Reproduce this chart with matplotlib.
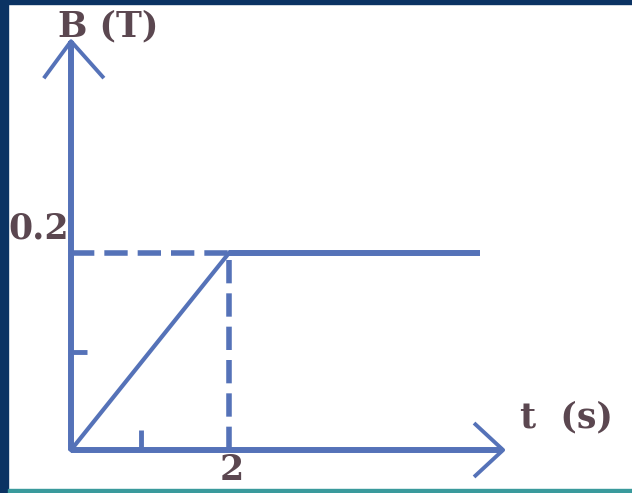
import numpy as np
import matplotlib.pyplot as plt
from matplotlib.patches import Rectangle

# B(t): linear rise to 0.2 T at t = 2 s, then constant
t = [0, 2, 5.18]
B = [0, 0.2, 0.2]
t_mark = 2
B_mark = 0.2
t_tick = 0.88
B_tick = 0.1

blue = '#5572b8'
txt = '#5b4750'

fig = plt.figure(figsize=(6.32, 4.93), dpi=100)
ax = fig.add_axes([0, 0, 1, 1])
ax.set_xlim(-71 / 79, (632 - 71) / 79)
ax.set_ylim(-43 / 985, 450 / 985)
ax.axis('off')

# axes with arrow heads
ax.plot([0, 0], [0, 0.415], color=blue, lw=4.3, solid_capstyle='butt')
ax.plot([0, 5.47], [0, 0], color=blue, lw=4.3, solid_capstyle='butt')
ax.plot([-0.33, 0, 0.40], [0.379, 0.415, 0.379], color=blue, lw=2.8)
ax.plot([5.12, 5.47, 5.12], [0.026, 0, -0.026], color=blue, lw=2.8)

# small ticks
ax.plot([0, 0.2], [B_tick, B_tick], color=blue, lw=3.5, solid_capstyle='butt')
ax.plot([t_tick, t_tick], [0, 0.02], color=blue, lw=3.5, solid_capstyle='butt')

# the B(t) curve: thin ramp, thick plateau
ax.plot(t[:2], B[:2], color=blue, lw=3.0)
ax.plot(t[1:], B[1:], color=blue, lw=4.3, solid_capstyle='butt')

# dashed guides
ax.plot([0, t_mark], [B_mark, B_mark], color=blue, lw=4.0, dashes=(4.2, 1.8))
ax.plot([t_mark, t_mark], [0, B_mark], color=blue, lw=4.0, dashes=(4.2, 1.8))

# labels
fs = 25
ax.text(-0.17, 0.43, 'B (T)', color=txt, fontsize=fs, fontweight='bold', va='center', ha='left',
        family='DejaVu Serif')
ax.text(-0.03, 0.225, '0.2', color=txt, fontsize=fs, fontweight='bold', va='center', ha='right',
        family='DejaVu Serif')
ax.text(t_mark + 0.04, -0.02, '2', color=txt, fontsize=fs, fontweight='bold', va='center', ha='center',
        family='DejaVu Serif')
ax.text(5.68, 0.033, 't  (s)', color=txt, fontsize=fs, fontweight='bold', va='center', ha='left',
        family='DejaVu Serif')

# frame strips
fig.patches.append(Rectangle((0, 0), 8 / 632, 1, transform=fig.transFigure, color='#0b3363'))
fig.patches.append(Rectangle((0, 1 - 4 / 493), 1, 4 / 493, transform=fig.transFigure, color='#0b3363'))
fig.patches.append(Rectangle((8 / 632, 0), 1, 4 / 493, transform=fig.transFigure, color='#3a9a9c'))

fig.savefig('out.png', dpi=100)
